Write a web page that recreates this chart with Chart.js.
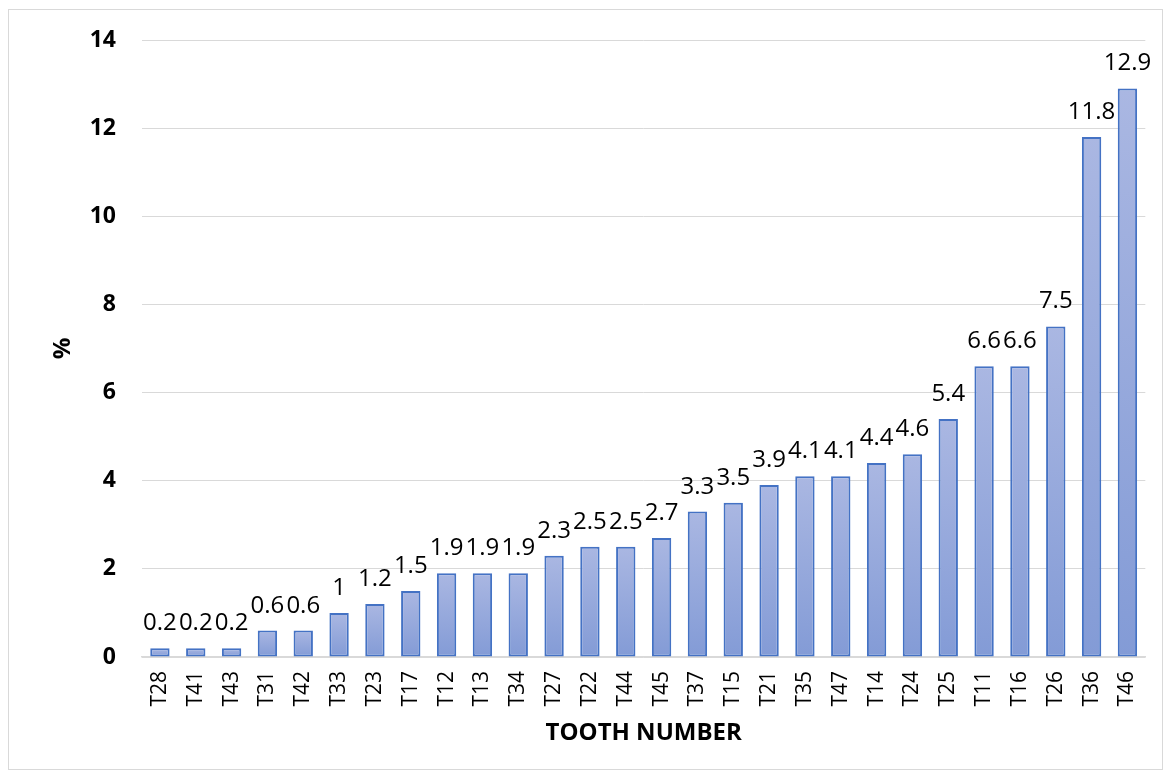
<!DOCTYPE html>
<html>
<head>
<meta charset="utf-8">
<script src="https://cdn.jsdelivr.net/npm/chart.js@4.4.1/dist/chart.umd.min.js"></script>
<style>
  html, body { margin: 0; padding: 0; background: #ffffff; }
  #wrap { position: absolute; left: 0; top: 0; width: 1167px; height: 776px; }
  #frame { position: absolute; left: 8px; top: 9px; width: 1155px; height: 761px; border: 1px solid #d9d9d9; box-sizing: border-box; pointer-events: none; }
</style>
</head>
<body>
<div id="wrap">
  <canvas id="chart" width="1167" height="776"></canvas>
  <div id="frame"></div>
</div>
<script>
// Teeth, ordered by share of cases
const teeth = ['T28','T41','T43','T31','T42','T33','T23','T17','T12','T13','T34','T27','T22','T44',
               'T45','T37','T15','T21','T35','T47','T14','T24','T25','T11','T16','T26','T36','T46'];
const percentages = [0.2,0.2,0.2,0.6,0.6,1,1.2,1.5,1.9,1.9,1.9,2.3,2.5,2.5,
                     2.7,3.3,3.5,3.9,4.1,4.1,4.4,4.6,5.4,6.6,6.6,7.5,11.8,12.9];
const yTicks = [0, 2, 4, 6, 8, 10, 12, 14];
const xTitle = 'TOOTH NUMBER';
const yTitle = '%';

const FONT = '"Open Sans", "Liberation Sans", sans-serif';

// vertical gradient per bar, lighter at the top
function barFill(ctx) {
  const chart = ctx.chart;
  if (!chart.chartArea || ctx.parsed === undefined) return '#9fb1df';
  const ys = chart.scales.y;
  const top = ys.getPixelForValue(ctx.parsed.y);
  const base = ys.getPixelForValue(0);
  if (!(base > top)) return '#9fb1df';
  const g = chart.ctx.createLinearGradient(0, top, 0, base);
  g.addColorStop(0, 'rgb(170,183,226)');
  g.addColorStop(1, 'rgb(131,155,214)');
  return g;
}

// value written above each bar
const valueLabels = {
  id: 'valueLabels',
  afterDatasetsDraw(chart) {
    const c = chart.ctx;
    const meta = chart.getDatasetMeta(0);
    c.save();
    c.font = '24px ' + FONT;
    c.fillStyle = '#000000';
    c.textAlign = 'center';
    c.textBaseline = 'alphabetic';
    meta.data.forEach((bar, i) => {
      c.fillText(String(percentages[i]), bar.x, bar.y - 18);
    });
    c.restore();
  }
};

new Chart(document.getElementById('chart'), {
  type: 'bar',
  data: {
    labels: teeth,
    datasets: [{
      data: percentages,
      backgroundColor: barFill,
      borderColor: '#4472c4',
      borderWidth: 2,
      borderSkipped: false,
      categoryPercentage: 1,
      barPercentage: 0.54
    }]
  },
  options: {
    responsive: false,
    animation: false,
    events: [],
    layout: { padding: { top: 40, right: 21, left: 0, bottom: 0 } },
    plugins: { legend: { display: false }, tooltip: { enabled: false } },
    scales: {
      x: {
        grid: { display: false, drawTicks: false },
        border: { display: true, color: '#d9d9d9', width: 1.5 },
        ticks: {
          color: '#000000',
          font: { family: FONT, size: 21 },
          maxRotation: 90, minRotation: 90,
          padding: 14,
          autoSkip: false
        },
        title: {
          display: true, text: xTitle, color: '#000000',
          font: { family: FONT, size: 24, weight: 'bold' },
          padding: { top: 0, bottom: 28 }
        },
        afterFit(scale) { scale.height = 776 - 657; }
      },
      y: {
        min: 0, max: 14,
        afterBuildTicks(scale) { scale.ticks = yTicks.map(v => ({ value: v })); },
        grid: { color: '#d9d9d9', lineWidth: 1, drawTicks: false },
        border: { display: false },
        ticks: {
          color: '#000000',
          font: { family: FONT, size: 23, weight: 'bold' },
          padding: 26
        },
        title: {
          display: true, text: yTitle, color: '#000000',
          font: { family: FONT, size: 24, weight: 'bold' },
          padding: { top: 49, bottom: 0 }
        },
        afterFit(scale) { scale.width = 142; }
      }
    }
  },
  plugins: [valueLabels]
});
</script>
</body>
</html>
